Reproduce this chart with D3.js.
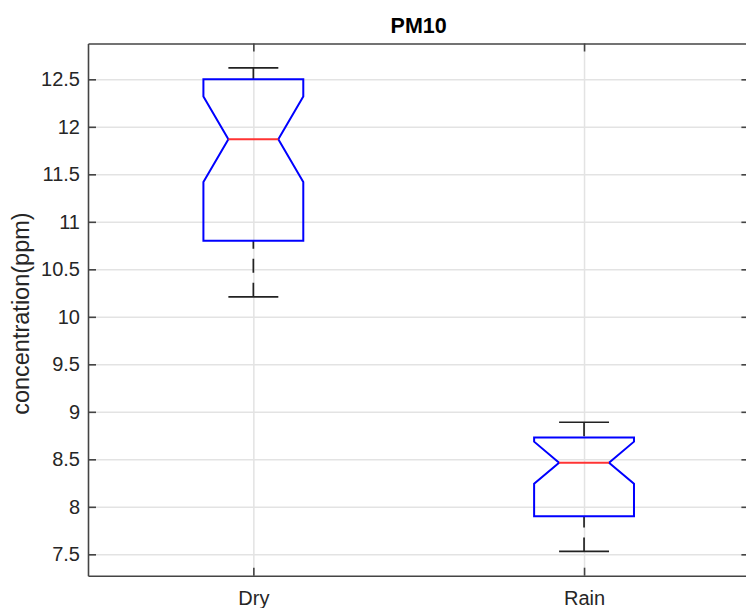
<!DOCTYPE html>
<html>
<head>
<meta charset="utf-8">
<script src="https://cdn.jsdelivr.net/npm/d3@7/dist/d3.min.js"></script>
<style>
  body { margin: 0; background: #fff; }
  svg { display: block; font-family: "Liberation Sans", Arial, sans-serif; }
  .grid line { stroke: #e3e3e3; stroke-width: 1.5; }
  .grid path { display: none; }
  .axis path, .axis line { stroke: #444; stroke-width: 1.6; }
  .axis text { fill: #262626; font-size: 20px; }
</style>
</head>
<body>
<div id="chart"></div>
<script>
// box plot data
const categories = ['Dry', 'Rain'];
const whiskerLo = [10.21, 7.53];
const q1 = [10.80, 7.90];
const notchLo = [11.42, 8.244];
const median = [11.87, 8.465];
const notchHi = [12.32, 8.686];
const q3 = [12.50, 8.73];
const whiskerHi = [12.62, 8.89];
const yTicks = [7.5, 8, 8.5, 9, 9.5, 10, 10.5, 11, 11.5, 12, 12.5];
const yDomain = [7.275, 12.877];

const width = 746;
const height = 608;
// plot box (right edge falls just outside the picture)
const margin = { top: 43.5, left: 88, right: 749.4, bottom: 575.7 };

const svg = d3.select('#chart')
  .append('svg')
  .attr('width', width)
  .attr('height', height);

const x = d3.scalePoint()
  .domain(categories)
  .range([margin.left, margin.right])
  .padding(0.5);

const y = d3.scaleLinear()
  .domain(yDomain)
  .range([margin.bottom, margin.top]);

const boxHalf = x.step() * 0.151;
const notchHalf = boxHalf / 2;
const capHalf = boxHalf / 2;

// grid lines
svg.append('g')
  .attr('class', 'grid')
  .attr('transform', `translate(${margin.left},0)`)
  .call(d3.axisLeft(y).tickValues(yTicks).tickSize(-(margin.right - margin.left)).tickFormat(''));

svg.append('g')
  .attr('class', 'grid')
  .attr('transform', `translate(0,${margin.bottom})`)
  .call(d3.axisBottom(x).tickSize(-(margin.bottom - margin.top)).tickFormat(''));

const rows = categories.map((c, i) => ({
  cat: c,
  wlo: whiskerLo[i], q1: q1[i], nlo: notchLo[i], med: median[i],
  nhi: notchHi[i], q3: q3[i], whi: whiskerHi[i],
}));

const boxes = svg.selectAll('.box')
  .data(rows)
  .enter()
  .append('g')
  .attr('class', 'box');

// whiskers: dashed, drawn from the cap toward the box
boxes.append('line')
  .attr('x1', d => x(d.cat)).attr('x2', d => x(d.cat))
  .attr('y1', d => y(d.whi)).attr('y2', d => y(d.q3))
  .attr('stroke', '#222').attr('stroke-width', 1.7)
  .attr('stroke-dasharray', '14,10');
boxes.append('line')
  .attr('x1', d => x(d.cat)).attr('x2', d => x(d.cat))
  .attr('y1', d => y(d.wlo)).attr('y2', d => y(d.q1))
  .attr('stroke', '#222').attr('stroke-width', 1.7)
  .attr('stroke-dasharray', '14,10');

// caps
['whi', 'wlo'].forEach(k => {
  boxes.append('line')
    .attr('x1', d => x(d.cat) - capHalf).attr('x2', d => x(d.cat) + capHalf)
    .attr('y1', d => y(d[k])).attr('y2', d => y(d[k]))
    .attr('stroke', '#222').attr('stroke-width', 1.7);
});

// notched box outline
boxes.append('path')
  .attr('d', d => {
    const cx = x(d.cat);
    const pts = [
      [cx - boxHalf, y(d.q1)],
      [cx - boxHalf, y(d.nlo)],
      [cx - notchHalf, y(d.med)],
      [cx - boxHalf, y(d.nhi)],
      [cx - boxHalf, y(d.q3)],
      [cx + boxHalf, y(d.q3)],
      [cx + boxHalf, y(d.nhi)],
      [cx + notchHalf, y(d.med)],
      [cx + boxHalf, y(d.nlo)],
      [cx + boxHalf, y(d.q1)],
    ];
    return d3.line()(pts) + 'Z';
  })
  .attr('fill', 'none')
  .attr('stroke', '#0000ff')
  .attr('stroke-width', 2)
  .attr('stroke-linejoin', 'miter');

// median
boxes.append('line')
  .attr('x1', d => x(d.cat) - notchHalf).attr('x2', d => x(d.cat) + notchHalf)
  .attr('y1', d => y(d.med)).attr('y2', d => y(d.med))
  .attr('stroke', '#ff3333').attr('stroke-width', 2);

// axes, ticks pointing inward
const fmt = d => String(d);
svg.append('g')
  .attr('class', 'axis')
  .attr('transform', `translate(${margin.left},0)`)
  .call(d3.axisLeft(y).tickValues(yTicks).tickSize(-8).tickPadding(8).tickSizeOuter(0).tickFormat(fmt));

svg.append('g')
  .attr('class', 'axis')
  .attr('transform', `translate(${margin.right},0)`)
  .call(d3.axisRight(y).tickValues(yTicks).tickSize(-8).tickSizeOuter(0).tickFormat(''));

svg.append('g')
  .attr('class', 'axis')
  .attr('transform', `translate(0,${margin.bottom})`)
  .call(d3.axisBottom(x).tickSize(-8).tickPadding(15).tickSizeOuter(0));

svg.append('g')
  .attr('class', 'axis')
  .attr('transform', `translate(0,${margin.top})`)
  .call(d3.axisTop(x).tickSize(-8).tickSizeOuter(0).tickFormat(''));

// title and y label
svg.append('text')
  .attr('x', (margin.left + margin.right) / 2)
  .attr('y', 33)
  .attr('text-anchor', 'middle')
  .style('font-size', '21.5px')
  .style('font-weight', 'bold')
  .attr('fill', '#000')
  .text('PM10');

svg.append('text')
  .attr('transform', `translate(29,${(margin.top + margin.bottom) / 2 + 4}) rotate(-90)`)
  .attr('text-anchor', 'middle')
  .style('font-size', '23.5px')
  .attr('fill', '#262626')
  .text('concentration(ppm)');
</script>
</body>
</html>
